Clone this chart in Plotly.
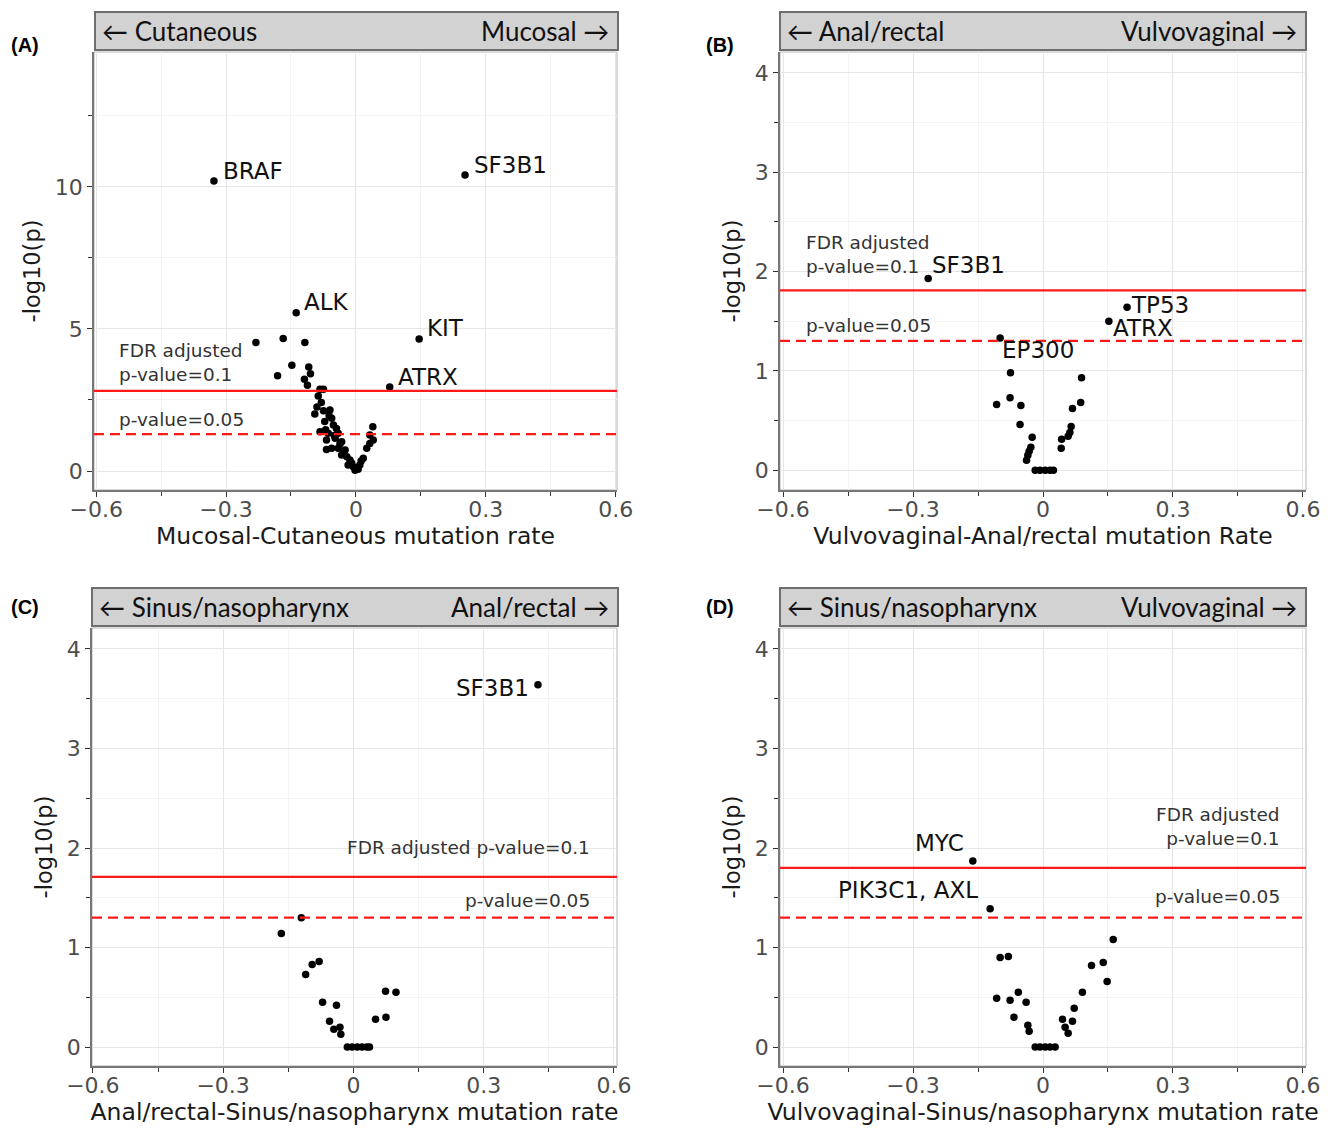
import plotly.graph_objects as go

# ---------------- data ----------------
# Panel A: Mucosal vs Cutaneous
A_genes = ["BRAF", "SF3B1", "ALK", "KIT", "ATRX"]
A_x = [-0.328, 0.252, -0.138, 0.146, 0.078,
       -0.231, -0.168, -0.118, -0.148, -0.181, -0.109, -0.105, -0.119, -0.112,
       -0.083, -0.075, -0.087, -0.080, -0.095, -0.075, -0.060, -0.072, -0.056,
       -0.052, -0.045, -0.083, -0.064, -0.041, -0.068, -0.048, -0.033, -0.068,
       -0.056, -0.041, -0.025, -0.033, -0.021, -0.014, -0.018, -0.006, -0.002,
       0.005, 0.009, 0.017, 0.025, 0.032, 0.040, 0.039, 0.032,
       -0.062, -0.050, -0.037, -0.028, -0.010, 0.000, 0.012, -0.090, -0.070]
A_y = [10.21, 10.42, 5.57, 4.65, 2.96,
       4.52, 4.66, 4.52, 3.72, 3.35, 3.66, 3.42, 3.23, 3.02,
       2.88, 2.88, 2.64, 2.41, 2.01, 2.12, 2.15, 1.74, 1.86,
       1.62, 1.50, 1.38, 1.33, 1.33, 1.09, 1.15, 1.03, 0.76,
       0.80, 0.80, 0.74, 0.56, 0.50, 0.39, 0.21, 0.15, 0.03,
       0.06, 0.21, 0.45, 0.80, 0.97, 1.09, 1.56, 1.27,
       1.95, 1.25, 0.95, 0.65, 0.28, 0.10, 0.35, 2.25, 1.45]
A_fdr = 2.82

# Panel B: Vulvovaginal vs Anal/rectal
B_genes = ["SF3B1", "TP53", "ATRX", "EP300"]
B_x = [-0.265, 0.194, 0.152, -0.099,
       -0.075, -0.107, -0.076, -0.051, -0.053, -0.025, -0.028, -0.032, -0.035, -0.038,
       -0.018, -0.007, 0.005, 0.016, 0.024,
       0.042, 0.043, 0.058, 0.062, 0.065, 0.068, 0.087, 0.089]
B_y = [1.93, 1.64, 1.50, 1.33,
       0.98, 0.66, 0.73, 0.65, 0.46, 0.33, 0.23, 0.19, 0.15, 0.10,
       0.0, 0.0, 0.0, 0.0, 0.0,
       0.22, 0.31, 0.34, 0.38, 0.44, 0.62, 0.68, 0.93]
B_fdr = 1.81

# Panel C: Anal/rectal vs Sinus/nasopharynx
C_genes = ["SF3B1"]
C_x = [0.425,
       -0.120, -0.166, -0.110, -0.095, -0.079, -0.071, -0.039, -0.055, -0.045, -0.031, -0.029,
       -0.014, -0.003, 0.009, 0.020, 0.031, 0.037,
       0.051, 0.075, 0.074, 0.098]
C_y = [3.64,
       1.30, 1.14, 0.73, 0.83, 0.86, 0.45, 0.42, 0.26, 0.18, 0.20, 0.13,
       0.0, 0.0, 0.0, 0.0, 0.0, 0.0,
       0.28, 0.30, 0.56, 0.55]
C_fdr = 1.71

# Panel D: Vulvovaginal vs Sinus/nasopharynx
D_genes = ["MYC", "PIK3C1, AXL"]
D_x = [-0.162, -0.122,
       -0.099, -0.080, -0.107, -0.076, -0.057, -0.039, -0.067, -0.035, -0.032,
       -0.018, -0.007, 0.005, 0.016, 0.028,
       0.045, 0.051, 0.058, 0.068, 0.072, 0.091, 0.112, 0.139, 0.148, 0.162]
D_y = [1.87, 1.39,
       0.90, 0.91, 0.49, 0.47, 0.55, 0.45, 0.30, 0.22, 0.16,
       0.0, 0.0, 0.0, 0.0, 0.0,
       0.28, 0.20, 0.14, 0.26, 0.39, 0.55, 0.82, 0.85, 0.66, 1.08]
D_fdr = 1.80

P05 = 1.301  # -log10(0.05)

x_titles = ["Mucosal-Cutaneous mutation rate",
            "Vulvovaginal-Anal/rectal mutation Rate",
            "Anal/rectal-Sinus/nasopharynx mutation rate",
            "Vulvovaginal-Sinus/nasopharynx mutation rate"]
header_left = ["← Cutaneous", "← Anal/rectal", "← Sinus/nasopharynx", "← Sinus/nasopharynx"]
header_right = ["Mucosal →", "Vulvovaginal →", "Anal/rectal →", "Vulvovaginal →"]
panel_tags = ["(A)", "(B)", "(C)", "(D)"]
x_ticks = [-0.6, -0.3, 0, 0.3, 0.6]

# ---------------- layout geometry (pixels) ----------------
W, H = 1333, 1128
boxes = [(94, 617, 52, 490), (780, 1306, 52, 490),
         (92, 617, 628, 1066), (780, 1306, 628, 1066)]
headers = [(95, 618, 12, 50), (780, 1306, 12, 50),
           (92, 618, 588, 626), (780, 1306, 588, 626)]
tag_pos = [(9, 45), (704, 45), (9, 607), (704, 607)]
xranges = [[-0.605, 0.603], [-0.607, 0.607], [-0.602, 0.607], [-0.607, 0.607]]
yranges = [[-0.669, 14.75], [-0.2, 4.21], [-0.19, 4.21], [-0.19, 4.21]]
ydticks = [5, 1, 1, 1]

def px_x(p): return p / W
def px_y(p): return 1 - p / H

fig = go.Figure()

panels = [
    (A_x, A_y, A_genes, A_fdr),
    (B_x, B_y, B_genes, B_fdr),
    (C_x, C_y, C_genes, C_fdr),
    (D_x, D_y, D_genes, D_fdr),
]

label_style = [
    [("left", 7, 10), ("left", 7, 10), ("left", 6, 11), ("left", 6, 11), ("left", 6, 10)],
    [("left", 2, 13), ("left", 2, 2), ("left", 2, -7), ("left", 0, -12)],
    [("right", -7, -3)],
    [("center", -33, 18), ("center", -82, 19)],
]
thr_text = [
    [("FDR adjusted<br>p-value=0.1", -0.552, 3.82, "left"), ("p-value=0.05", -0.552, 1.83, "left")],
    [("FDR adjusted<br>p-value=0.1", -0.552, 2.17, "left"), ("p-value=0.05", -0.552, 1.46, "left")],
    [("FDR adjusted p-value=0.1", 0.549, 2.01, "right"), ("p-value=0.05", 0.549, 1.47, "right")],
    [("FDR adjusted<br>p-value=0.1", 0.552, 2.22, "right"), ("p-value=0.05", 0.552, 1.51, "right")],
]

annotations = []
shapes = []
layout_axes = {}
TICKFONT = dict(family="DejaVu Sans", size=22, color="#4d4d4d")
XTITLEFONT = dict(family="DejaVu Sans", size=23.5, color="#1a1a1a")
YTITLEFONT = dict(family="DejaVu Sans", size=22.5, color="#1a1a1a")

for i, (xs, ys, genes, fdr) in enumerate(panels):
    n = i + 1
    xa = "x" if n == 1 else f"x{n}"
    ya = "y" if n == 1 else f"y{n}"
    xkey = "xaxis" if n == 1 else f"xaxis{n}"
    ykey = "yaxis" if n == 1 else f"yaxis{n}"
    l, r, t, b = boxes[i]
    fig.add_trace(go.Scatter(x=xs, y=ys, mode="markers", xaxis=xa, yaxis=ya,
                             marker=dict(color="black", size=7.5),
                             hoverinfo="skip", showlegend=False))
    layout_axes[xkey] = dict(
        domain=[px_x(l), px_x(r)], anchor=ya, range=xranges[i], automargin=False,
        tickmode="array", tickvals=x_ticks, ticklabelstandoff=-6,
        ticks="outside", ticklen=5, tickcolor="#333", tickwidth=1,
        showgrid=True, gridcolor="#e6e6e6", gridwidth=1.2,
        minor=dict(tickmode="linear", tick0=0, dtick=0.15, ticks="outside", ticklen=4,
                   tickcolor="#333", showgrid=True, gridcolor="#f3f3f3", gridwidth=0.8),
        showline=True, linecolor="#777", linewidth=1.5, zeroline=False,
        tickfont=TICKFONT,
        title=dict(text=x_titles[i], font=XTITLEFONT, standoff=3),
        fixedrange=True,
    )
    layout_axes[ykey] = dict(
        domain=[px_y(b), px_y(t)], anchor=xa, range=yranges[i], automargin=False,
        tick0=0, dtick=ydticks[i],
        ticks="outside", ticklen=5, tickcolor="#333", tickwidth=1,
        showgrid=True, gridcolor="#e6e6e6", gridwidth=1.2,
        minor=dict(tickmode="linear", tick0=0, dtick=ydticks[i] / 2, ticks="outside", ticklen=4,
                   tickcolor="#333", showgrid=True, gridcolor="#f3f3f3", gridwidth=0.8),
        showline=True, linecolor="#777", linewidth=1.5, zeroline=False,
        tickfont=TICKFONT,
        title=dict(text="-log10(p)", font=YTITLEFONT, standoff=8),
        fixedrange=True,
    )
    shapes.append(dict(type="rect", xref=f"{xa} domain", yref=f"{ya} domain",
                       x0=0, x1=1, y0=0, y1=1, line=dict(color="#b5b5b5", width=1), layer="below"))
    shapes.append(dict(type="line", xref=f"{xa} domain", yref=ya, x0=0, x1=1, y0=fdr, y1=fdr,
                       line=dict(color="#ff1a1a", width=2.2)))
    shapes.append(dict(type="line", xref=f"{xa} domain", yref=ya, x0=0, x1=1, y0=P05, y1=P05,
                       line=dict(color="#ff1a1a", width=2.2, dash="10px,6px")))
    hl, hr, ht, hb = headers[i]
    shapes.append(dict(type="rect", xref="paper", yref="paper",
                       x0=px_x(hl), x1=px_x(hr), y0=px_y(hb), y1=px_y(ht),
                       fillcolor="#d2d2d2", line=dict(color="#6e6e6e", width=2)))
    annotations.append(dict(xref="paper", yref="paper", x=px_x(hl + 5), y=px_y((ht + hb) / 2),
                            text=header_left[i], showarrow=False, xanchor="left", yanchor="middle",
                            font=dict(family="Lato", size=26, color="#111")))
    annotations.append(dict(xref="paper", yref="paper", x=px_x(hr - 7), y=px_y((ht + hb) / 2),
                            text=header_right[i], showarrow=False, xanchor="right", yanchor="middle",
                            font=dict(family="Lato", size=26, color="#111")))
    tx, ty = tag_pos[i]
    annotations.append(dict(xref="paper", yref="paper", x=px_x(tx), y=px_y(ty),
                            text=f"<b>{panel_tags[i]}</b>", showarrow=False,
                            xanchor="left", yanchor="middle",
                            font=dict(family="Liberation Sans", size=20, color="black")))
    for g, (anc, xs_, ys_) in zip(genes, label_style[i]):
        k = genes.index(g)
        annotations.append(dict(xref=xa, yref=ya, x=xs[k], y=ys[k], text=g, showarrow=False,
                                xanchor=anc, yanchor="middle", xshift=xs_, yshift=ys_,
                                font=dict(family="DejaVu Sans", size=23, color="#111")))
    for txt, tx_, ty_, anc in thr_text[i]:
        annotations.append(dict(xref=xa, yref=ya, x=tx_, y=ty_, text=txt, showarrow=False,
                                xanchor=anc, yanchor="middle", align=anc,
                                font=dict(family="DejaVu Sans", size=18.5, color="#333")))

fig.update_layout(
    template="none",
    width=W, height=H, margin=dict(l=0, r=0, t=0, b=0, autoexpand=False),
    paper_bgcolor="white", plot_bgcolor="white",
    shapes=shapes, annotations=annotations, **layout_axes,
)

fig.write_html("out.html", config={"displayModeBar": False},
               post_script="document.body.style.margin='0';")
